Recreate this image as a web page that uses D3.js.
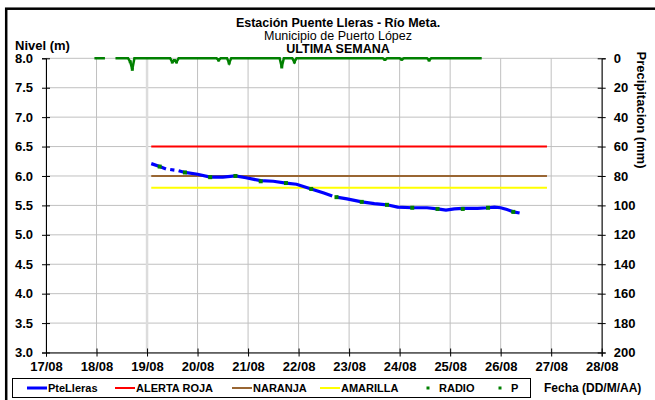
<!DOCTYPE html>
<html>
<head>
<meta charset="utf-8">
<script src="https://cdn.jsdelivr.net/npm/d3@7"></script>
<style>
  body { margin: 0; background: #fff; }
  text { font-family: "Liberation Sans", Arial, sans-serif; }
</style>
</head>
<body>
<svg id="chart" width="655" height="400"></svg>
<script>
// Nivel PteLleras (m), hourly readings (null = missing)
var levelTimes = ["2019-08-19 02:00","2019-08-19 06:00","2019-08-19 09:00","2019-08-19 10:00","2019-08-19 11:00","2019-08-19 13:00","2019-08-19 14:00","2019-08-19 15:00",
  "2019-08-19 18:00","2019-08-20 00:00","2019-08-20 06:00","2019-08-20 12:00","2019-08-20 18:00","2019-08-20 23:00",
  "2019-08-21 06:00","2019-08-21 12:00","2019-08-21 18:00","2019-08-21 23:00","2019-08-22 06:00","2019-08-22 12:00",
  "2019-08-22 16:00","2019-08-22 17:00","2019-08-22 18:00","2019-08-22 23:00","2019-08-23 06:00","2019-08-23 12:00","2019-08-23 18:00",
  "2019-08-23 23:00","2019-08-24 06:00","2019-08-24 13:00","2019-08-24 18:00","2019-08-24 22:00","2019-08-25 02:00",
  "2019-08-25 06:00","2019-08-25 13:00","2019-08-25 18:00","2019-08-25 21:00","2019-08-26 00:00","2019-08-26 03:00",
  "2019-08-26 06:00","2019-08-26 09:00"];
var levelValues = [6.21,6.16,6.12,null,6.11,6.10,null,6.09,
  6.06,6.03,5.98,5.98,6.00,5.97,
  5.92,5.91,5.88,5.86,5.78,5.71,
  5.66,null,5.64,5.61,5.56,5.53,5.51,
  5.47,5.46,5.46,5.44,5.42,5.44,
  5.45,5.45,5.46,5.47,5.46,5.43,
  5.39,5.37];

// RADIO readings (m)
var radioTimes = ["2019-08-19 06:00","2019-08-19 18:00","2019-08-20 06:00","2019-08-20 18:00","2019-08-21 06:00",
  "2019-08-21 18:00","2019-08-22 06:00","2019-08-22 18:00","2019-08-23 06:00","2019-08-23 18:00",
  "2019-08-24 06:00","2019-08-24 18:00","2019-08-25 06:00","2019-08-25 18:00","2019-08-26 06:00"];
var radioValues = [6.16,6.06,5.98,6.00,5.91,5.88,5.78,5.64,5.56,5.51,5.46,5.44,5.44,5.46,5.39];

// Alert levels (m)
var alertNames = ["ALERTA ROJA","NARANJA","AMARILLA"];
var alertValues = [6.5, 6.0, 5.8];
var alertColors = ["#ff0000","#996633","#ffff00"];
var alertStart = "2019-08-19 02:00";
var alertEnd = "2019-08-26 22:00";

// Precipitacion P (mm)
var precipTimes = ["2019-08-17 23:00","2019-08-18 04:00","2019-08-18 06:00","2019-08-18 09:00","2019-08-18 15:00",
  "2019-08-18 16:00","2019-08-18 17:00","2019-08-18 18:00","2019-08-19 11:00","2019-08-19 12:00","2019-08-19 13:00",
  "2019-08-19 14:00","2019-08-19 15:00","2019-08-20 09:00","2019-08-20 10:00","2019-08-20 11:00","2019-08-20 14:00",
  "2019-08-20 15:00","2019-08-20 16:00","2019-08-21 15:00","2019-08-21 16:00","2019-08-21 17:00","2019-08-21 21:00",
  "2019-08-21 22:00","2019-08-21 23:00","2019-08-23 16:00","2019-08-23 17:00","2019-08-23 18:00","2019-08-24 00:00",
  "2019-08-24 01:00","2019-08-24 02:00","2019-08-24 13:00","2019-08-24 14:00","2019-08-24 15:00","2019-08-25 15:00"];
var precipValues = [0,0,null,0,0,
  2.3,7.5,0,0,2.5,1.5,
  2.5,0,0,1.2,0,0,
  3.2,0,0,5.9,0,0,
  2.5,0,0,0.8,0,0,
  0.7,0,0,1.2,0,0];

var levelTicks = [3.0,3.5,4.0,4.5,5.0,5.5,6.0,6.5,7.0,7.5,8.0];
var precipTicks = [0,20,40,60,80,100,120,140,160,180,200];
var dateStart = "2019-08-17 00:00", dateEnd = "2019-08-28 00:00";

var parse = d3.timeParse("%Y-%m-%d %H:%M");
var svg = d3.select("#chart");

var margin = {left: 46, right: 601.7, top: 58.3, bottom: 352.5};

var x = d3.scaleTime()
  .domain([parse(dateStart), parse(dateEnd)])
  .range([margin.left, margin.right]);
var yL = d3.scaleLinear().domain([3, 8]).range([margin.bottom, margin.top]);
var yR = d3.scaleLinear().domain([0, 200]).range([margin.top, margin.bottom]);

// outer frame
svg.append("rect")
  .attr("x", 6.2).attr("y", 8.7).attr("width", 700).attr("height", 500)
  .attr("fill", "none").attr("stroke", "#000").attr("stroke-width", 2.5);

// gridlines
var days = d3.timeDay.range(parse(dateStart), d3.timeDay.offset(parse(dateEnd), 1));
svg.append("g").selectAll("line").data(levelTicks).enter().append("line")
  .attr("x1", margin.left).attr("x2", margin.right)
  .attr("y1", function(d) { return yL(d); }).attr("y2", function(d) { return yL(d); })
  .attr("stroke", "#c0c0c0").attr("stroke-width", 1);
svg.append("g").selectAll("line").data(days).enter().append("line")
  .attr("x1", function(d) { return x(d); }).attr("x2", function(d) { return x(d); })
  .attr("y1", margin.top).attr("y2", margin.bottom)
  .attr("stroke", function(d) { return d.getDate() == 19 ? "#dcdcdc" : "#c0c0c0"; })
  .attr("stroke-width", function(d) { return d.getDate() == 19 ? 2.5 : 1; });

// axes
var fontAxis = "13px";
var leftAxis = svg.append("g")
  .attr("transform", "translate(" + margin.left + ",0)")
  .call(d3.axisLeft(yL).tickValues(levelTicks).tickFormat(d3.format(".1f")).tickSize(4).tickPadding(9));
leftAxis.selectAll(".tick line").attr("x1", 4);

var rightAxis = svg.append("g")
  .attr("transform", "translate(" + margin.right + ",0)")
  .call(d3.axisRight(yR).tickValues(precipTicks).tickSize(4).tickPadding(8));
rightAxis.selectAll(".tick line").attr("x1", -4);

var bottomAxis = svg.append("g")
  .attr("transform", "translate(0," + margin.bottom + ")")
  .call(d3.axisBottom(x).tickValues(days.filter(function(d) { return d <= parse(dateEnd); }))
    .tickFormat(d3.timeFormat("%d/%m")).tickSize(4).tickPadding(5));
bottomAxis.selectAll(".tick line").attr("y1", -4);

[leftAxis, rightAxis, bottomAxis].forEach(function(a) {
  a.select(".domain").attr("stroke", "#000");
  a.selectAll(".tick line").attr("stroke", "#000");
  a.selectAll("text")
    .style("font-family", "'Liberation Sans', Arial, sans-serif")
    .style("font-size", fontAxis)
    .style("font-weight", "bold")
    .attr("fill", "#000");
});

// alert lines
svg.append("g").selectAll("line").data(alertValues).enter().append("line")
  .attr("x1", x(parse(alertStart))).attr("x2", x(parse(alertEnd)))
  .attr("y1", function(d) { return yL(d); }).attr("y2", function(d) { return yL(d); })
  .attr("stroke", function(d, i) { return alertColors[i]; })
  .attr("stroke-width", 2);

// level line
var levelData = levelTimes.map(function(t, i) { return {date: parse(t), value: levelValues[i]}; });
var levelLine = d3.line()
  .defined(function(d) { return d.value != null; })
  .x(function(d) { return x(d.date); })
  .y(function(d) { return yL(d.value); });
svg.append("path")
  .datum(levelData)
  .attr("d", levelLine)
  .attr("fill", "none")
  .attr("stroke", "#0000ff")
  .attr("stroke-width", 3.2);

// radio points
svg.append("g").selectAll("rect").data(radioTimes).enter().append("rect")
  .attr("x", function(d) { return x(parse(d)) - 2; })
  .attr("y", function(d, i) { return yL(radioValues[i]) - 2; })
  .attr("width", 4).attr("height", 4)
  .attr("fill", "#008000");

// precipitation
var precipData = precipTimes.map(function(t, i) { return {date: parse(t), value: precipValues[i]}; });
var precipLine = d3.line()
  .defined(function(d) { return d.value != null; })
  .x(function(d) { return x(d.date); })
  .y(function(d) { return yR(d.value); });
svg.append("path")
  .datum(precipData)
  .attr("d", precipLine)
  .attr("fill", "none")
  .attr("stroke", "#008000")
  .attr("stroke-width", 2.5);
svg.append("g").selectAll("rect").data(precipData.filter(function(d) { return d.value > 0; })).enter().append("rect")
  .attr("x", function(d) { return x(d.date) - 1.5; })
  .attr("y", function(d) { return yR(d.value) - 1.5; })
  .attr("width", 3).attr("height", 3)
  .attr("fill", "#008000");

// titles
svg.append("text").attr("x", 338).attr("y", 26.5).attr("text-anchor", "middle")
  .style("font-size", "12.5px").style("font-weight", "bold").text("Estación Puente Lleras - Río Meta.");
svg.append("text").attr("x", 338).attr("y", 40).attr("text-anchor", "middle")
  .style("font-size", "12.5px").text("Municipio de Puerto López");
svg.append("text").attr("x", 338).attr("y", 53).attr("text-anchor", "middle")
  .style("font-size", "12.5px").style("font-weight", "bold").text("ULTIMA SEMANA");
svg.append("text").attr("x", 15).attr("y", 49.5)
  .style("font-size", "13px").style("font-weight", "bold").text("Nivel (m)");
svg.append("text").attr("transform", "translate(637,110) rotate(90)").attr("text-anchor", "middle")
  .style("font-size", "13px").style("font-weight", "bold").text("Precipitacion (mm)");
svg.append("text").attr("x", 544).attr("y", 392)
  .style("font-size", "12px").style("font-weight", "bold").text("Fecha (DD/M/AA)");

// legend
var legendItems = [
  {name: "PteLleras", color: "#0000ff", type: "line", x: 27},
  {name: alertNames[0], color: alertColors[0], type: "line", x: 115},
  {name: alertNames[1], color: alertColors[1], type: "line", x: 232},
  {name: alertNames[2], color: alertColors[2], type: "line", x: 320},
  {name: "RADIO", color: "#008000", type: "dot", x: 418},
  {name: "P", color: "#008000", type: "dot", x: 490}
];
var legendY = 388;
svg.append("rect").attr("x", 12.5).attr("y", 378.5).attr("width", 518).attr("height", 19)
  .attr("fill", "#fff").attr("stroke", "#000").attr("stroke-width", 1);
var leg = svg.append("g").selectAll("g").data(legendItems).enter().append("g")
  .attr("transform", function(d) { return "translate(" + d.x + "," + legendY + ")"; });
leg.filter(function(d) { return d.type == "line"; }).append("line")
  .attr("x1", 0).attr("x2", 20).attr("y1", 0).attr("y2", 0)
  .attr("stroke", function(d) { return d.color; })
  .attr("stroke-width", function(d) { return d.name == "PteLleras" ? 3 : 2; });
leg.filter(function(d) { return d.type == "dot"; }).append("rect")
  .attr("x", 8.5).attr("y", -1.5).attr("width", 3).attr("height", 3)
  .attr("fill", function(d) { return d.color; });
leg.append("text")
  .attr("x", 21).attr("y", 4)
  .style("font-size", "11px").style("font-weight", "bold")
  .text(function(d) { return d.name; });
</script>
</body>
</html>
